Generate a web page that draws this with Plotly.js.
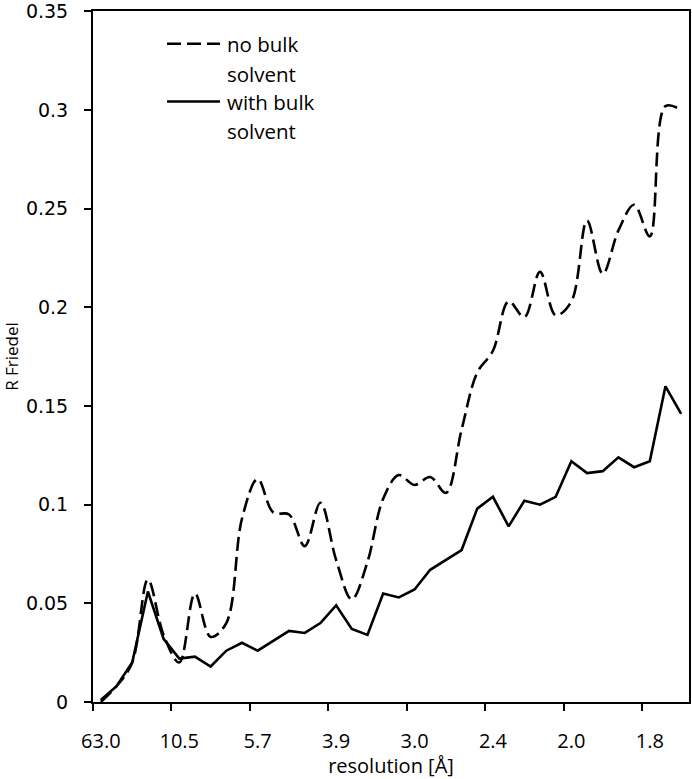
<!DOCTYPE html>
<html>
<head>
<meta charset="utf-8">
<script src="https://cdn.plot.ly/plotly-3.0.1.min.js"></script>
<style>
html,body{margin:0;padding:0;background:#fff;}
#chart{width:692px;height:779px;}
</style>
</head>
<body>
<div id="chart"></div>
<script>
// resolution bins (index along the x axis)
const bins = [0,1,2,3,4,5,6,7,8,9,10,11,12,13,14,15,16,17,18,19,20,21,22,23,24,25,26,27,28,29,30,31,32,33,34,35,36,37];
// labelled bins and their resolution labels (Å)
const labelBins = [0,5,10,15,20,25,30,35];
const resolutionLabels = ['63.0','10.5','5.7','3.9','3.0','2.4','2.0','1.8'];
// y axis ticks
const yTicks = [0, 0.05, 0.1, 0.15, 0.2, 0.25, 0.3, 0.35];
const yTickText = ['0','0.05','0.1','0.15','0.2','0.25','0.3','0.35'];

const seriesNames = ['no bulk<br>solvent', 'with bulk<br>solvent'];

// R Friedel without bulk solvent (dashed, smoothed)
const noBulk = [0.000,0.008,0.020,0.062,0.034,0.020,0.055,0.033,0.040,0.093,
                0.113,0.096,0.095,0.079,0.101,0.072,0.052,0.071,0.103,0.115,
                0.110,0.114,0.106,0.138,0.167,0.178,0.203,0.195,0.218,0.196,
                0.203,0.244,0.217,0.239,0.252,0.236,0.302,0.300];
// R Friedel with bulk solvent (solid)
const withBulk = [0.001,0.008,0.020,0.056,0.032,0.022,0.023,0.018,0.026,0.030,
                  0.026,0.031,0.036,0.035,0.040,0.049,0.037,0.034,0.055,0.053,
                  0.057,0.067,0.072,0.077,0.098,0.104,0.089,0.102,0.100,0.104,
                  0.122,0.116,0.117,0.124,0.119,0.122,0.160,0.146];

const lblFont = 'Open Sans, Lato, sans-serif';
const dashPattern = '14px,6px';

const traces = [
  {x: bins, y: noBulk, type: 'scatter', mode: 'lines', name: seriesNames[0],
   line: {color: '#000', width: 2.6, dash: dashPattern, shape: 'spline', smoothing: 1},
   showlegend: false, hoverinfo: 'skip'},
  {x: bins, y: withBulk, type: 'scatter', mode: 'lines', name: seriesNames[1],
   line: {color: '#000', width: 2.6}, showlegend: false, hoverinfo: 'skip'}
];

// legend rows (paper coords), drawn as annotations next to short line samples
function legendLines(name, yTop) {
  return name.split('<br>').map((t, i) => ({
    xref: 'paper', yref: 'paper', x: 0.2215, y: yTop - i * 0.043,
    xanchor: 'left', yanchor: 'middle', text: t, showarrow: false,
    font: {family: lblFont, size: 20.5, color: '#000'}
  }));
}

const layout = {
  width: 692, height: 779,
  margin: {l: 93, r: 3, t: 11, b: 77},
  paper_bgcolor: '#fff', plot_bgcolor: '#fff',
  showlegend: false,
  xaxis: {
    range: [-0.5, 37.5],
    tickmode: 'array', tickvals: labelBins, ticktext: resolutionLabels,
    ticks: '', ticklabelstandoff: 20, ticklabeloverflow: 'allow',
    minor: {tick0: -0.5, dtick: 5, ticks: 'outside', ticklen: 7, tickwidth: 2, tickcolor: '#000', showgrid: false},
    showgrid: false, zeroline: false,
    showline: true, linecolor: '#000', linewidth: 2, mirror: true,
    tickfont: {family: lblFont, size: 20, color: '#000'},
    title: {text: 'resolution [Å]', font: {family: lblFont, size: 20, color: '#000'}, standoff: 14}
  },
  yaxis: {
    range: [0, 0.3502],
    tickmode: 'array', tickvals: yTicks, ticktext: yTickText,
    ticks: 'outside', ticklen: 7, tickwidth: 2, tickcolor: '#000',
    ticklabelstandoff: 12, ticklabeloverflow: 'allow',
    showgrid: false, zeroline: false,
    showline: true, linecolor: '#000', linewidth: 2, mirror: true,
    tickfont: {family: 'DejaVu Sans, sans-serif', size: 19, color: '#000'},
    title: {text: 'R Friedel', font: {family: 'Liberation Sans Narrow, Open Sans, sans-serif', size: 17, color: '#000'}, standoff: 8}
  },
  shapes: [
    {type: 'line', xref: 'paper', yref: 'paper', x0: 0.1242, x1: 0.2131, y0: 0.9525, y1: 0.9525,
     line: {color: '#000', width: 2.6, dash: dashPattern}},
    {type: 'line', xref: 'paper', yref: 'paper', x0: 0.1242, x1: 0.2131, y0: 0.869, y1: 0.869,
     line: {color: '#000', width: 2.6}}
  ],
  annotations: [].concat(legendLines(seriesNames[0], 0.9525), legendLines(seriesNames[1], 0.869))
};

Plotly.newPlot('chart', traces, layout, {staticPlot: true, displayModeBar: false});
</script>
</body>
</html>
